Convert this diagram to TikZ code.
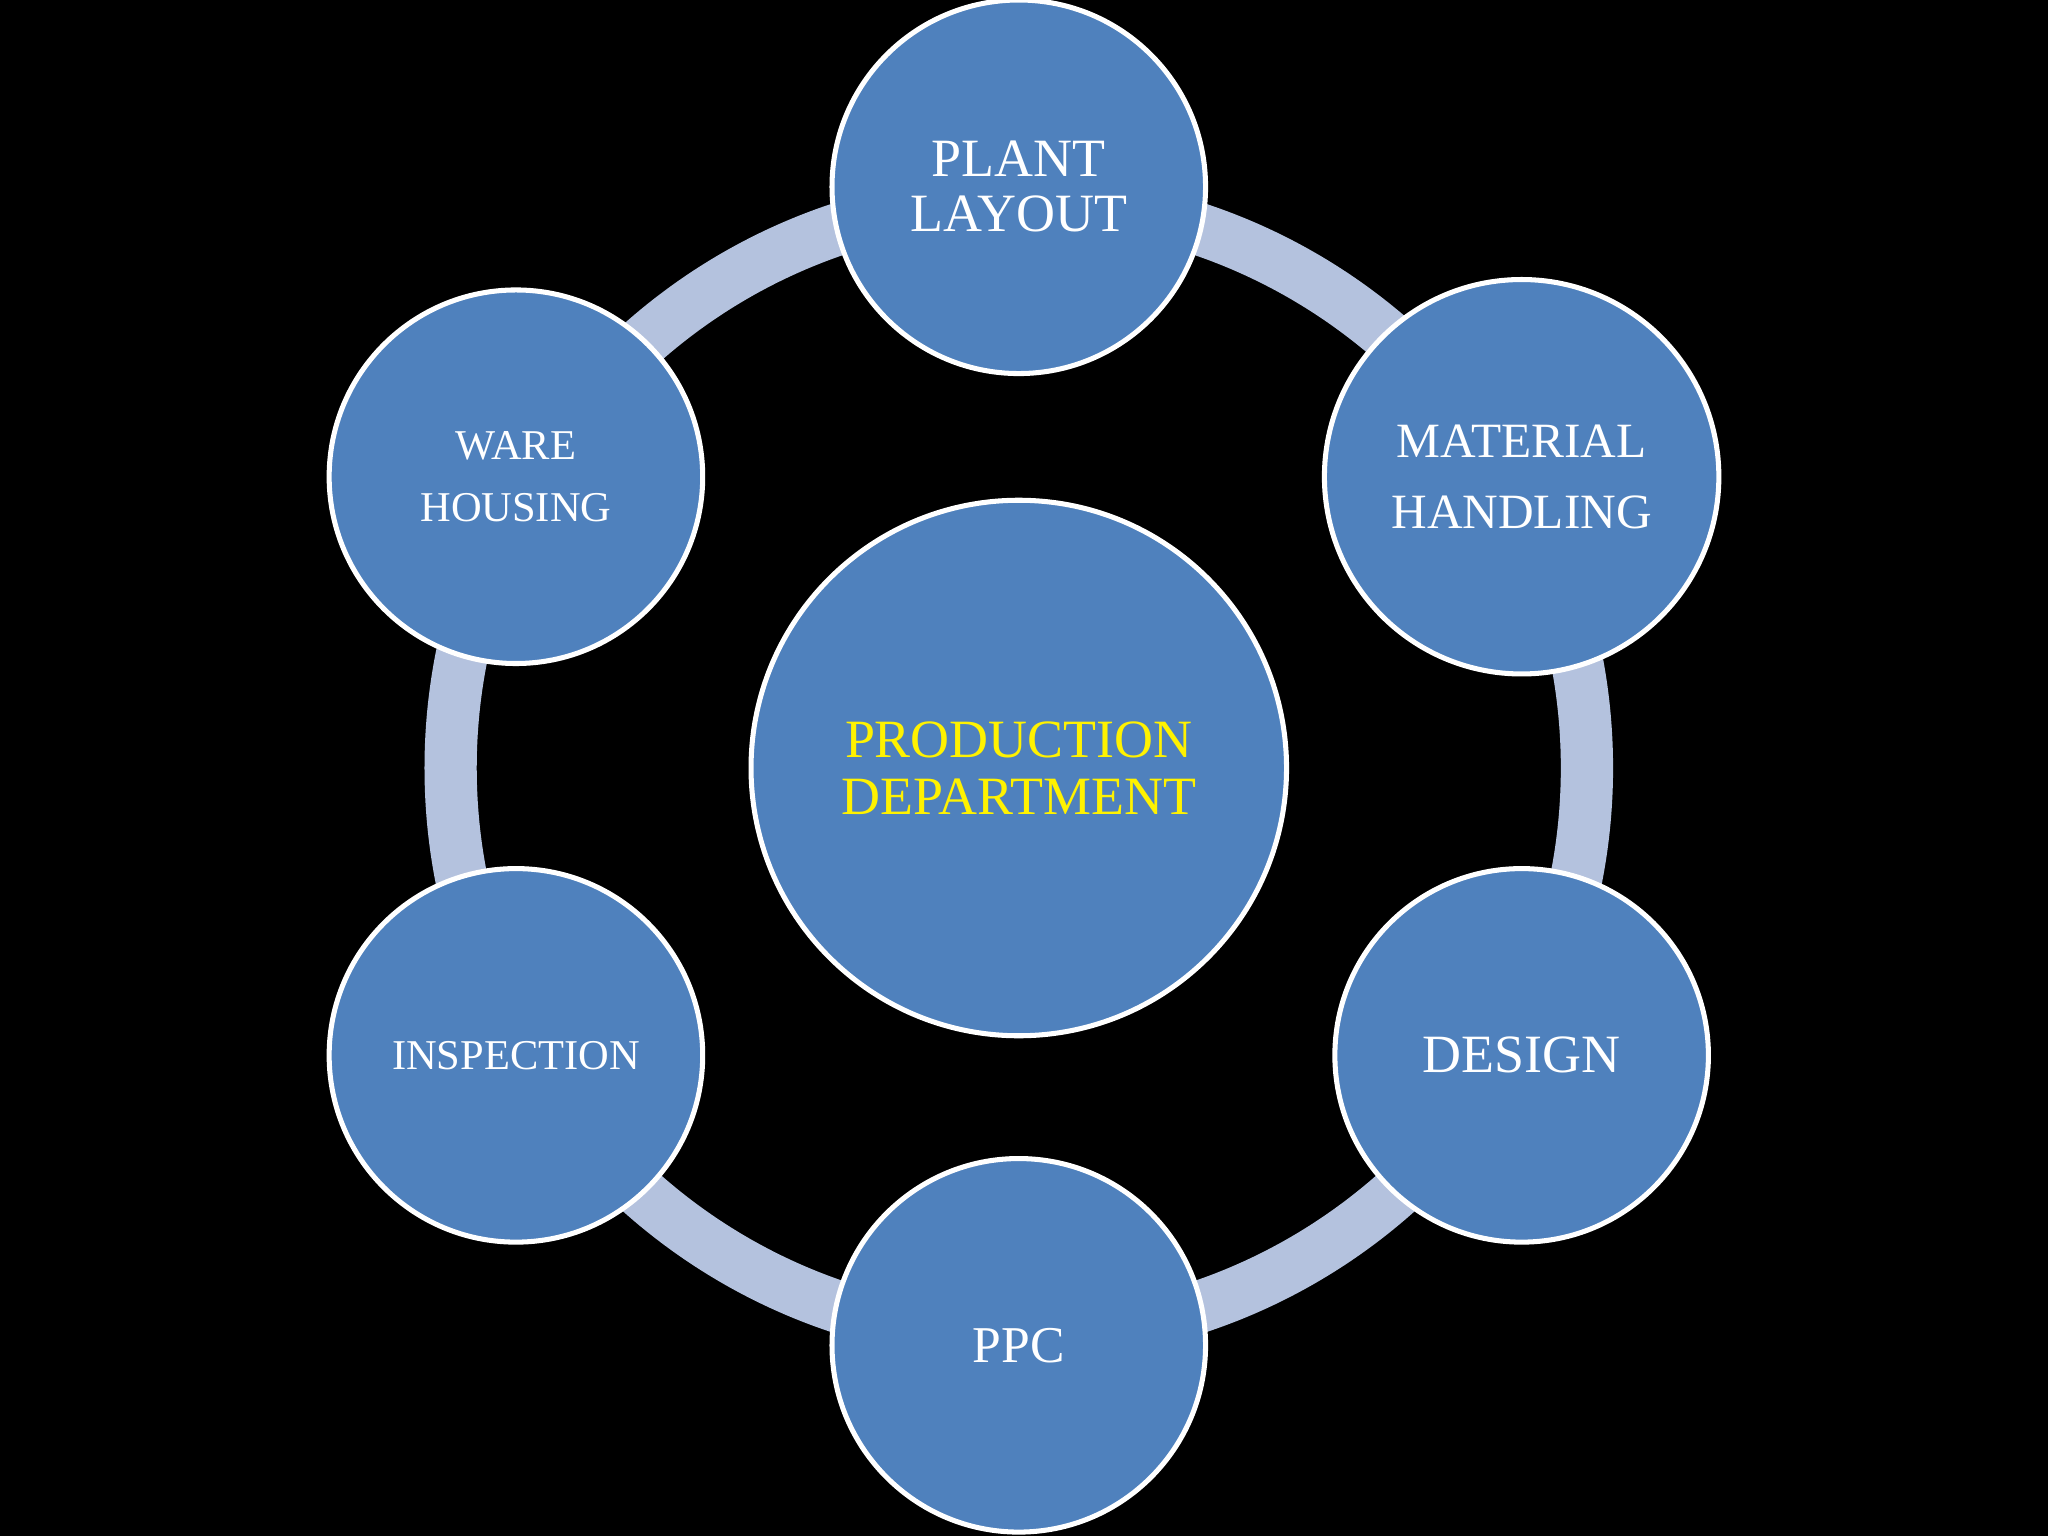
\documentclass[tikz,border=0pt]{standalone}
\usepackage{fontspec}
\setmainfont{Liberation Serif}
\definecolor{nodeblue}{HTML}{4F81BD}
\definecolor{ringblue}{HTML}{B4C2DE}
\begin{document}
\begin{tikzpicture}[x=0.02cm,y=-0.02cm,
  bub/.style={circle,fill=nodeblue,draw=white,line width=2.2pt,minimum size=286*0.02cm,inner sep=0pt,text=white,align=center,font=\fontsize{19}{24}\selectfont}]
\fill[black] (0,0) rectangle (1568,1176);
\useasboundingbox (0,0) rectangle (1568,1176);
\draw[ringblue,line width=40*0.02cm] (780,588) circle (435*0.02cm);
\node[bub,minimum size=410*0.02cm,text=yellow,font=\fontsize{23.5}{25}\selectfont] (c) at (780,588) {PRODUCTION\\DEPARTMENT};
\node[bub,font=\fontsize{23.5}{24}\selectfont] (p) at (780,143) {PLANT\\LAYOUT};
\node[bub,minimum size=302*0.02cm,font=\fontsize{21.5}{31}\selectfont] (m) at (1165,365) {MATERIAL\\HANDLING};
\node[bub,font=\fontsize{23.5}{30}\selectfont] (d) at (1165,808) {DESIGN};
\node[bub,font=\fontsize{22.5}{28}\selectfont] (q) at (780,1030) {PPC};
\node[bub,font=\fontsize{18.5}{24}\selectfont] (i) at (395,808) {INSPECTION};
\node[bub,font=\fontsize{18.5}{27}\selectfont] (w) at (395,365) {WARE\\HOUSING};
\end{tikzpicture}
\end{document}
